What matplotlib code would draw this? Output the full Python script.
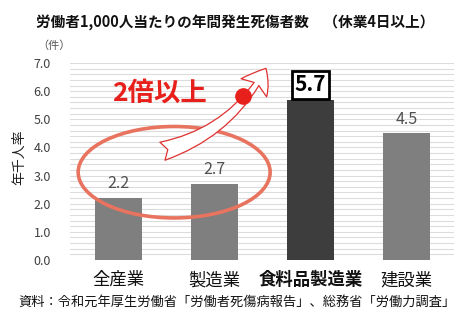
import numpy as np
from matplotlib import pyplot as plt
from matplotlib.patches import Ellipse, FancyArrowPatch

plt.rcParams['font.family'] = ['Noto Sans CJK JP', 'DejaVu Sans']

categories = ['全産業', '製造業', '食料品製造業', '建設業']
values = [2.2, 2.7, 5.7, 4.5]
bar_colors = ['#7f7f7f', '#7f7f7f', '#3d3d3d', '#7f7f7f']

fig = plt.figure(figsize=(4.74, 3.31), dpi=100)
ax = fig.add_axes([0.1487, 0.2145, 0.810, 0.595])

x = np.arange(len(categories))
bars = ax.bar(x, values, width=0.49, color=bar_colors, zorder=3)

ax.set_xlim(-0.5, 3.5)
ax.set_ylim(0, 7)
ax.set_yticks(np.arange(0, 7.01, 1.0))
ax.set_yticklabels(['%.1f' % v for v in np.arange(0, 7.01, 1.0)], fontsize=9, color='#404040')
ax.set_yticks(np.arange(0, 7.01, 0.2), minor=True)
ax.tick_params(axis='y', which='both', length=0, pad=14)
ax.grid(axis='y', which='both', color='#dcdcdc', linewidth=0.8, zorder=0)
for s in ax.spines.values():
    s.set_visible(False)

ax.set_xticks(x)
ax.set_xticklabels(categories, fontsize=12.5, color='#111111')
ax.tick_params(axis='x', length=0, pad=8)
ax.get_xticklabels()[2].set_fontweight('bold')

# value labels
for i, v in enumerate(values):
    if i == 2:
        ax.text(i, v + 0.15, '%.1f' % v, ha='center', va='bottom', fontsize=15,
                fontweight='bold', color='black', zorder=5,
                bbox=dict(boxstyle='square,pad=0.15', fc='white', ec='black', lw=2))
    else:
        ax.text(i, v + 0.2, '%.1f' % v, ha='center', va='bottom', fontsize=11.5,
                color='#505050', zorder=5)

ax.set_ylabel('年千人率', fontsize=10, color='#222222', labelpad=2)
ax.yaxis.set_label_coords(-0.115, 0.52)

# annotation: ellipse, arrow, dot and text
ell = Ellipse((0.58, 3.12), 2.0, 3.25, fill=False, ec='#e8735e', lw=2.6, zorder=4)
ax.add_patch(ell)
arr = FancyArrowPatch((0.43, 3.84), (1.55, 6.9), connectionstyle='arc3,rad=0.22',
                      arrowstyle='fancy,head_length=0.55,head_width=0.75,tail_width=0.45',
                      mutation_scale=30, fc='white', ec='#e03030', lw=0.9, zorder=6)
ax.add_patch(arr)
ax.plot([1.30], [5.84], 'o', color='#e8201c', markersize=11, zorder=7)
ax.text(0.43, 5.93, '2倍以上', ha='center', va='center', fontsize=19,
        fontweight='bold', color='#e8201c', zorder=7)

fig.text(0.075, 0.93, '労働者1,000人当たりの年間発生死傷者数　（休業4日以上）',
         fontsize=10.5, fontweight='bold', color='#111111', va='center')
fig.text(0.078, 0.862, '（件）', fontsize=8, color='#555555', va='center')
fig.text(0.5, 0.088, '資料：令和元年厚生労働省「労働者死傷病報告」、総務省「労働力調査」',
         fontsize=9.5, color='#111111', ha='center', va='center')

plt.savefig('out.png', dpi=100)
